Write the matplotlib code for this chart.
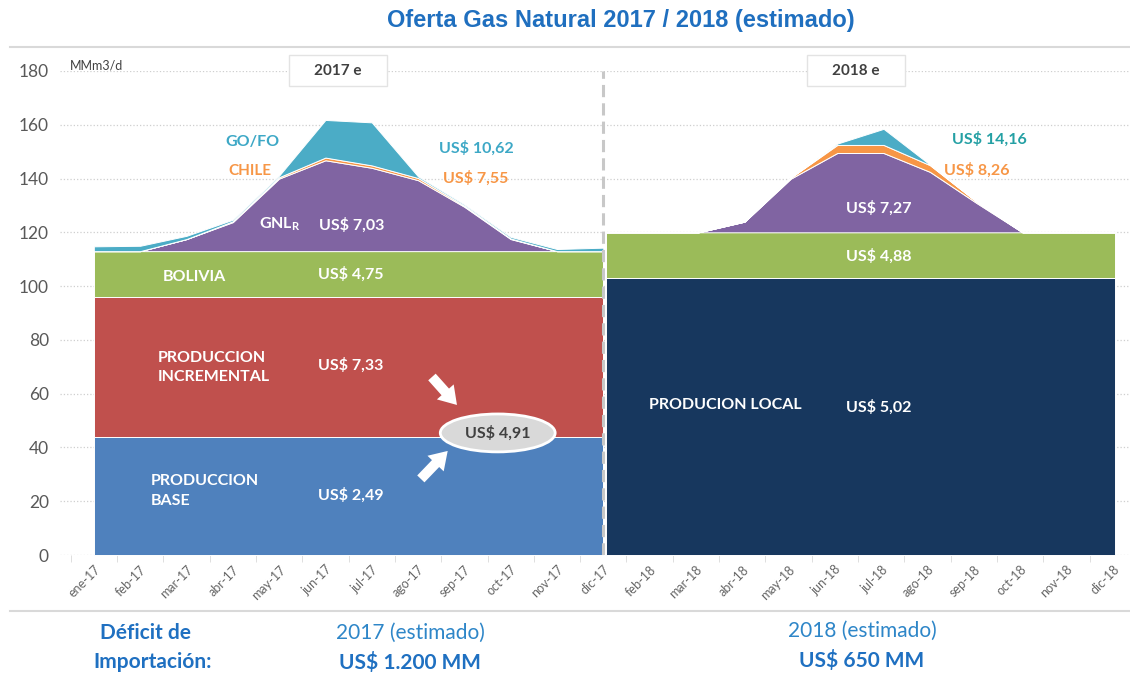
import numpy as np
import matplotlib.pyplot as plt
from matplotlib.patches import Ellipse, Rectangle
from matplotlib.lines import Line2D

plt.rcParams['font.family'] = ['Lato', 'DejaVu Sans']
plt.rcParams['mathtext.fontset'] = 'custom'
plt.rcParams['mathtext.rm'] = 'Lato'
plt.rcParams['mathtext.bf'] = 'Lato:bold'

# datos (MMm3/d)
meses_17 = ['ene-17', 'feb-17', 'mar-17', 'abr-17', 'may-17', 'jun-17',
            'jul-17', 'ago-17', 'sep-17', 'oct-17', 'nov-17', 'dic-17']
meses_18 = ['ene-18', 'feb-18', 'mar-18', 'abr-18', 'may-18', 'jun-18',
            'jul-18', 'ago-18', 'sep-18', 'oct-18', 'nov-18', 'dic-18']

base_17 = [44, 44, 44, 44, 44, 44, 44, 44, 44, 44, 44, 44]
incremental_17 = [52, 52, 52, 52, 52, 52, 52, 52, 52, 52, 52, 52]
bolivia_17 = [17, 17, 17, 17, 17, 17, 17, 17, 17, 17, 17, 17]
gnl_17 = [0, 0, 4.5, 10.8, 27, 33.8, 31, 26.4, 16.5, 4.5, 0, 0]
chile_17 = [0, 0, 0, 0.3, 0.5, 1.0, 0.9, 0.8, 0.4, 0.2, 0, 0]
gofo_17 = [1.8, 2.0, 1.2, 0.6, 0.6, 14, 16, 0.6, 0.5, 0.6, 0.8, 1.3]

local_18 = [103, 103, 103, 103, 103, 103, 103, 103, 103, 103, 103, 103]
bolivia_18 = [17, 17, 17, 17, 17, 17, 17, 17, 17, 17, 17, 17]
gnl_18 = [0, 0, 0, 4, 20, 29.5, 29.5, 22.5, 11, 0, 0, 0]
chile_18 = [0, 0, 0, 0, 0.4, 3, 3, 2.5, 0.5, 0, 0, 0]
gofo_18 = [0, 0, 0, 0, 0, 0.5, 6, 0.2, 0, 0, 0, 0]

W, H = 1130, 675
fig = plt.figure(figsize=(W / 100, H / 100), dpi=100)
ax = fig.add_axes([60 / W, 1 - 555 / H, 1070 / W, (555 - 71) / H])

x17 = np.arange(len(meses_17))
x18 = np.arange(len(meses_18)) + len(meses_17) - 1

ax.stackplot(x17, base_17, incremental_17, bolivia_17, gnl_17, chile_17, gofo_17,
             colors=['#4F81BD', '#C0504D', '#9BBB59', '#8064A2', '#F79646', '#4BACC6'],
             edgecolor='white', linewidth=0.7, zorder=2)
ax.stackplot(x18 + 0.05, local_18, bolivia_18, gnl_18, chile_18, gofo_18,
             colors=['#17375E', '#9BBB59', '#8064A2', '#F79646', '#4BACC6'],
             edgecolor='white', linewidth=0.7, zorder=2)

ax.set_xlim(-0.73, 22.37)
ax.set_ylim(0, 180)
ax.set_yticks(range(0, 181, 20))
ax.yaxis.grid(True, linestyle=':', color='#CFCFCF', linewidth=0.9)
ax.set_axisbelow(True)
for s in ax.spines.values():
    s.set_visible(False)

etiquetas = meses_17 + meses_18[1:]
ax.set_xticks(np.arange(len(etiquetas)))
ax.set_xticklabels(etiquetas, rotation=45, ha='right', rotation_mode='anchor',
                   fontsize=9, color='#666666')
ax.tick_params(axis='x', length=0, pad=6)
ax.set_xticks(np.arange(-0.5, 22, 1), minor=True)
ax.tick_params(axis='x', which='minor', length=5, color='#D9D9D9')
ax.tick_params(axis='y', length=0, pad=8, labelsize=12.5, labelcolor='#595959')

ax.axvline(11, color='#C8C8C8', lw=2.2, ls=(0, (4, 2)), zorder=3)

# textos dentro del grafico
blanco = dict(color='white', fontweight='bold', fontsize=11.5, zorder=5)
ax.text(3.43, 153.6, 'GO/FO', ha='center', va='center', color='#3DA8C6', fontweight='bold', fontsize=11.5)
ax.text(3.37, 142.8, 'CHILE', ha='center', va='center', color='#F79646', fontweight='bold', fontsize=11)
ax.text(4.02, 123.1, r'GNL$_\mathbf{R}$', ha='center', va='center', **blanco)
ax.text(5.57, 122.7, 'US$ 7,03', ha='center', va='center', **blanco)
ax.text(8.25, 151.4, 'US$ 10,62', ha='center', va='center', color='#3DA8C6', fontweight='bold', fontsize=11.5)
ax.text(8.25, 140.2, 'US$ 7,55', ha='center', va='center', color='#F79646', fontweight='bold', fontsize=11.5)
ax.text(2.18, 103.4, 'BOLIVIA', ha='center', va='center', **blanco)
ax.text(5.55, 104.5, 'US$ 4,75', ha='center', va='center', **blanco)
ax.text(1.38, 69.7, 'PRODUCCION\nINCREMENTAL', ha='left', va='center', linespacing=1.5, **blanco)
ax.text(5.55, 70.7, 'US$ 7,33', ha='center', va='center', **blanco)
ax.text(1.23, 23.8, 'PRODUCCION\nBASE', ha='left', va='center', linespacing=1.5, **blanco)
ax.text(5.55, 22.3, 'US$ 2,49', ha='center', va='center', **blanco)

ax.add_patch(Ellipse((8.72, 45.4), 2.48, 14.1, facecolor='#D9D9D9', edgecolor='white', lw=2, zorder=4))
ax.text(8.72, 45.4, 'US$ 4,91', ha='center', va='center', color='#404040', fontweight='bold', fontsize=11.5, zorder=5)
flecha = dict(arrowstyle='simple,head_length=0.7,head_width=0.9,tail_width=0.4',
              color='white', lw=0, mutation_scale=18, shrinkA=0, shrinkB=0)
ax.annotate('', xy=(7.84, 55.8), xytext=(7.30, 66.2), arrowprops=flecha, zorder=5)
ax.annotate('', xy=(7.64, 38.7), xytext=(7.06, 28.3), arrowprops=flecha, zorder=5)

ax.text(19.34, 154.7, 'US$ 14,16', ha='center', va='center', color='#24A0A4', fontweight='bold', fontsize=11.5)
ax.text(19.06, 143.2, 'US$ 8,26', ha='center', va='center', color='#F79646', fontweight='bold', fontsize=11.5)
ax.text(16.95, 129.0, 'US$ 7,27', ha='center', va='center', **blanco)
ax.text(16.95, 111.2, 'US$ 4,88', ha='center', va='center', **blanco)
ax.text(13.64, 55.8, 'PRODUCION LOCAL', ha='center', va='center', **blanco)
ax.text(16.95, 55.0, 'US$ 5,02', ha='center', va='center', **blanco)


def ftext(x, y, s, **kw):
    fig.text(x / W, 1 - y / H, s, ha='center', va='center', **kw)


# cajas de año
for x0, x1, lab in [(289, 387, '2017 e'), (807, 905, '2018 e')]:
    fig.add_artist(Rectangle((x0 / W, 1 - 86 / H), (x1 - x0) / W, 31 / H,
                             transform=fig.transFigure, facecolor='white',
                             edgecolor='#E3E3E3', lw=1, zorder=3))
    ftext((x0 + x1) / 2, 71, lab, fontsize=11, fontweight='bold', color='#404040', zorder=4)

fig.text(70 / W, 1 - 65 / H, 'MMm3/d', ha='left', va='center', fontsize=9, color='#404040')

# lineas del marco
for yy in [47, 611]:
    fig.add_artist(Line2D([10 / W, 1], [1 - yy / H, 1 - yy / H], transform=fig.transFigure,
                          color='#D9D9D9', lw=1.5))

ftext(621, 20, 'Oferta Gas Natural 2017 / 2018 (estimado)', fontsize=17, fontweight='bold',
      color='#1F6FBF', family='Liberation Sans')

azul = '#1F70C1'
ftext(146, 633, 'Déficit de', fontsize=15, fontweight='bold', color=azul)
ftext(153, 662, 'Importación:', fontsize=15, fontweight='bold', color=azul)
ftext(410, 633, '2017 (estimado)', fontsize=15, color='#2E86C8')
ftext(410, 662, 'US$ 1.200 MM', fontsize=15, fontweight='bold', color=azul)
ftext(862, 631, '2018 (estimado)', fontsize=15, color='#2E86C8')
ftext(862, 660, 'US$ 650 MM', fontsize=15, fontweight='bold', color=azul)

fig.savefig('out.png', dpi=100)
